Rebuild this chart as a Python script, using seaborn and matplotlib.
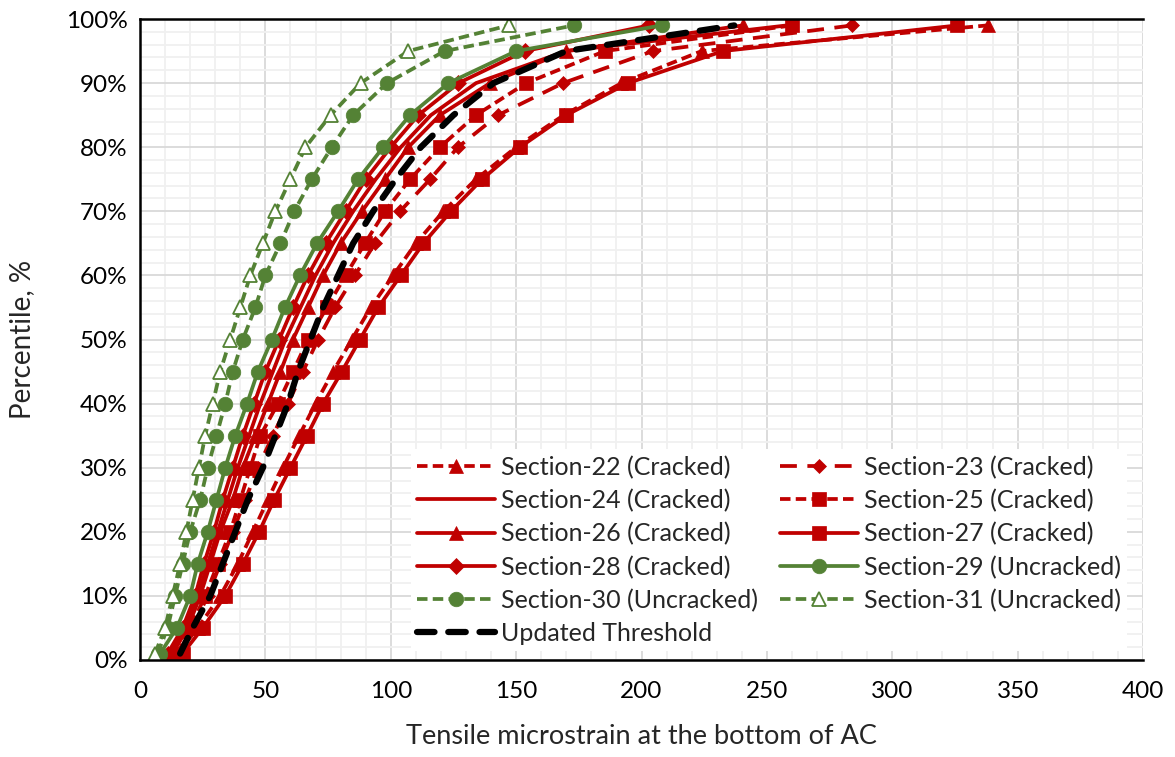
import matplotlib
matplotlib.use("Agg")
import matplotlib.pyplot as plt
from matplotlib.ticker import MultipleLocator, FuncFormatter
import seaborn as sns
import pandas as pd

# Percentile levels (%) at which each section's strain distribution is reported
percentiles = [1, 5, 10, 15, 20, 25, 30, 35, 40, 45, 50, 55, 60, 65, 70, 75, 80, 85, 90, 95, 99]

# Tensile microstrain at the bottom of the AC layer, per section
sec22 = [15, 23, 32, 39, 45, 51, 57, 63.5, 70, 77, 84.5, 92, 101, 110, 121, 134, 150, 169, 192, 224, 338]
sec23 = [15, 21, 27, 32, 37, 42, 47, 53, 59, 65, 71, 77.8, 85.7, 93.7, 103.7, 115.7, 126.8, 142.8, 168.7, 204.6, 284]
sec24 = [12, 18, 23, 27, 31, 35, 39, 43.5, 48, 53, 58, 64, 70, 77, 85, 94, 104, 116, 134, 170, 258]
sec25 = [15, 20, 26, 31, 36, 40, 44, 48, 55, 61, 67, 74.5, 82, 89.7, 97.7, 107.7, 119.6, 134, 154, 185.4, 260]
sec26 = [13, 19, 24, 28, 32, 37, 41, 46, 51, 56, 61, 67, 73, 80, 88.5, 97.7, 107, 119.6, 139.6, 170, 240.5]
sec27 = [17, 25, 34, 41, 47.5, 53.5, 60, 66.6, 73, 80.5, 87.7, 95, 104, 113, 124, 136.4, 151.5, 170, 194.6, 232.5, 326]
sec28 = [11, 17, 22, 25.5, 29.5, 33, 37, 41, 45.5, 50, 55.5, 61, 67, 74, 82, 90, 100, 111, 127, 153.5, 203]
sec29 = [8, 14.7, 20, 23, 27, 30.5, 34, 38, 42.7, 47, 52.6, 57.8, 63.8, 70.6, 79, 87, 97, 107.7, 123, 150, 208]
sec30 = [7, 11, 14, 17, 20, 24, 27, 30.5, 34, 37, 41, 46, 50, 56, 61.5, 68.5, 76.5, 85, 98.5, 121.5, 173]
sec31 = [6, 10, 13, 16, 18.5, 21, 23.5, 26, 29, 32, 36, 40, 44, 49, 54, 60, 66, 76, 88, 107, 147]
threshold = [16, 21, 28, 33, 38, 43, 49, 54, 59, 63, 68, 73, 79, 85, 93, 102, 112, 125, 141, 170, 237]

labels = [
    "Section-22 (Cracked)", "Section-23 (Cracked)", "Section-24 (Cracked)",
    "Section-25 (Cracked)", "Section-26 (Cracked)", "Section-27 (Cracked)",
    "Section-28 (Cracked)", "Section-29 (Uncracked)", "Section-30 (Uncracked)",
    "Section-31 (Uncracked)", "Updated Threshold",
]

RED = "#C00000"
GREEN = "#548235"
SHORT_DASH = (2.8, 1.4)
LONG_DASH = (4.5, 2.8)

# (values, colour, marker, marker size, dash pattern or None for solid, hollow marker)
styles = [
    (sec22, RED, "^", 10.0, SHORT_DASH, False),
    (sec23, RED, "D", 7.5, LONG_DASH, False),
    (sec24, RED, None, 0, None, False),
    (sec25, RED, "s", 9.5, SHORT_DASH, False),
    (sec26, RED, "^", 10.0, None, False),
    (sec27, RED, "s", 10.5, None, False),
    (sec28, RED, "D", 8.0, None, False),
    (sec29, GREEN, "o", 10.5, None, False),
    (sec30, GREEN, "o", 10.5, SHORT_DASH, False),
    (sec31, GREEN, "^", 9.5, SHORT_DASH, True),
]

sns.set_theme(style="white")
plt.rcParams["font.family"] = ["Lato", "DejaVu Sans"]

fig = plt.figure(figsize=(11.75, 7.57), dpi=100)
ax = fig.add_axes([140 / 1175, 1 - 660 / 757, 1003 / 1175, 641 / 757])

handles = []
for (vals, col, mk, ms, dash, hollow), lab in zip(styles, labels[:-1]):
    df = pd.DataFrame({"strain": vals, "pct": percentiles})
    sns.lineplot(data=df, x="strain", y="pct", ax=ax, estimator=None, sort=False,
                 color=col, linewidth=2.7, marker=mk if mk else "",
                 markersize=ms, markeredgewidth=1.3 if hollow else 0.5,
                 markerfacecolor="white" if hollow else col,
                 markeredgecolor=col, label=lab, legend=False)
    line = ax.lines[-1]
    if dash is not None:
        line.set_dashes(dash)
    handles.append(line)

df_thr = pd.DataFrame({"strain": threshold, "pct": percentiles})
sns.lineplot(data=df_thr, x="strain", y="pct", ax=ax, estimator=None, sort=False,
             color="black", linewidth=4.5, label=labels[-1], legend=False)
thr_line = ax.lines[-1]
thr_line.set_dashes((2.8, 2.2))
thr_line.set_dash_capstyle("round")
handles.append(thr_line)

# Axes ranges, ticks and grid
ax.set_xlim(0, 400)
ax.set_ylim(0, 100)
ax.xaxis.set_major_locator(MultipleLocator(50))
ax.xaxis.set_minor_locator(MultipleLocator(10))
ax.yaxis.set_major_locator(MultipleLocator(10))
ax.yaxis.set_minor_locator(MultipleLocator(2))
ax.yaxis.set_major_formatter(FuncFormatter(lambda v, p: f"{int(round(v))}%"))
ax.grid(which="major", color="#D9D9D9", linewidth=1.3)
ax.grid(which="minor", color="#F0F0F0", linewidth=1.3)
ax.set_axisbelow(True)
ax.tick_params(axis="both", which="both", length=0, labelsize=17.5, colors="black")
ax.tick_params(axis="x", pad=15)
ax.tick_params(axis="y", pad=9)

for side in ("left", "bottom", "top"):
    ax.spines[side].set_visible(True)
    ax.spines[side].set_color("black")
    ax.spines[side].set_linewidth(1.8)
ax.spines["right"].set_visible(False)

ax.set_xlabel("Tensile microstrain at the bottom of AC", fontsize=19.5, labelpad=16)
ax.set_ylabel("Percentile, %", fontsize=20, labelpad=22)

# Legend laid out row by row: two entries per row
order = [0, 2, 4, 6, 8, 10, 1, 3, 5, 7, 9]
leg = ax.legend([handles[i] for i in order], [labels[i] for i in order],
                ncol=2, loc="lower right", bbox_to_anchor=(0.997, -0.006),
                fontsize=18, frameon=True, fancybox=False, framealpha=1,
                edgecolor="none", facecolor="white", handlelength=3.1,
                handletextpad=0.25, labelspacing=0.4, columnspacing=0.9,
                borderpad=0.25)

fig.savefig("out.png", dpi=100)
